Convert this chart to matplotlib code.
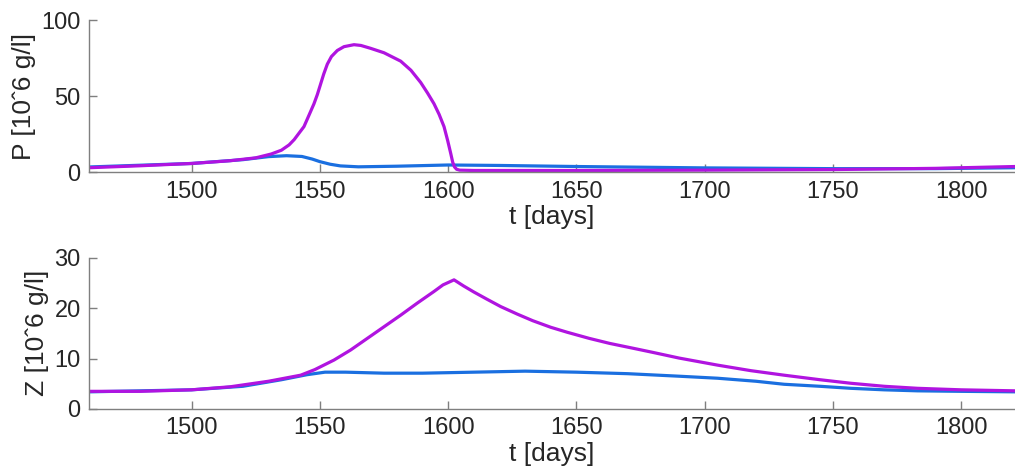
import matplotlib
matplotlib.use("Agg")
import matplotlib.pyplot as plt

plt.rcParams['font.family'] = ['Liberation Sans', 'DejaVu Sans']

# top panel: P
t_p_mag = [1460, 1480, 1500, 1515, 1525, 1531, 1535, 1538, 1540, 1542, 1543.8, 1545.5, 1547.7,
           1549, 1550.3, 1551.5, 1552.9, 1554.5, 1556.8, 1559.4, 1563.3, 1566, 1569.8, 1575,
           1581.5, 1585.5, 1589.3, 1592, 1594.5, 1596.5, 1598.4, 1599.8, 1601, 1601.8, 1602.5,
           1603.3, 1604.5, 1610, 1650, 1700, 1750, 1790, 1821]
p_mag = [3.0, 4.3, 5.8, 7.6, 9.5, 12, 14.5, 18, 21.5, 26, 30, 36.5, 45,
         51, 58, 64.5, 71, 76, 80, 82.5, 83.8, 83.3, 81.4, 78.5,
         73, 67, 59, 52, 45, 38, 30, 21, 12.5, 6.5, 3.5,
         2.0, 1.4, 1.2, 1.2, 1.4, 1.8, 2.6, 3.8]

t_p_blue = [1460, 1500, 1520, 1530, 1537, 1543, 1547, 1550, 1554, 1558, 1565, 1580, 1600,
            1620, 1650, 1700, 1750, 1790, 1821]
p_blue = [3.5, 5.8, 8.3, 10.3, 10.9, 10.4, 8.7, 7.0, 5.3, 4.2, 3.6, 4.0, 4.8,
          4.5, 3.8, 2.9, 2.4, 2.4, 3.0]

# bottom panel: Z
t_z_mag = [1460, 1480, 1500, 1515, 1530, 1542.5, 1548, 1555.5, 1562, 1568.5, 1575, 1581.5,
           1588, 1594.5, 1598, 1602.3, 1606, 1610, 1615, 1620.5, 1627, 1633, 1640, 1646.5,
           1655, 1663, 1672.5, 1680, 1690, 1705, 1718, 1731, 1745, 1757, 1770, 1783, 1800, 1821]
z_mag = [3.5, 3.5, 3.8, 4.4, 5.5, 6.7, 7.8, 9.7, 11.7, 14, 16.3, 18.6,
         21, 23.3, 24.6, 25.6, 24.4, 23.2, 21.8, 20.3, 18.8, 17.5, 16.2, 15.2,
         14.0, 13.0, 12.0, 11.2, 10.1, 8.7, 7.6, 6.7, 5.8, 5.1, 4.5, 4.1, 3.8, 3.6]

t_z_blue = [1460, 1500, 1520, 1535, 1545, 1552, 1560, 1575, 1590, 1610, 1630, 1650, 1670,
            1690, 1705, 1720, 1731, 1745, 1757, 1770, 1783, 1800, 1821]
z_blue = [3.4, 3.8, 4.5, 5.8, 6.8, 7.3, 7.3, 7.1, 7.1, 7.3, 7.5, 7.3, 7.0,
          6.5, 6.1, 5.5, 4.9, 4.5, 4.1, 3.8, 3.6, 3.5, 3.4]

xticks = [1500, 1550, 1600, 1650, 1700, 1750, 1800]

mag = "#b014e0"
blue = "#1a6fe0"
gray = "#7f7f7f"
txt = "#262626"

fig = plt.figure(figsize=(10.15, 4.7), dpi=100)
ax1 = fig.add_axes([0.0877, 0.6334, 0.9123, 0.324])
ax2 = fig.add_axes([0.0877, 0.1298, 0.9123, 0.322])

panels = [
    (ax1, t_p_blue, p_blue, t_p_mag, p_mag, [0, 50, 100], (0, 100), "P [10ˆ6 g/l]"),
    (ax2, t_z_blue, z_blue, t_z_mag, z_mag, [0, 10, 20, 30], (0, 30), "Z [10ˆ6 g/l]"),
]

for ax, tb, yb, tm, ym, yt, ylim, lab in panels:
    ax.plot(tb, yb, color=blue, lw=2.3, solid_capstyle="round", solid_joinstyle="round")
    ax.plot(tm, ym, color=mag, lw=2.3, solid_capstyle="round", solid_joinstyle="round")
    ax.set_xlim(1460, 1821)
    ax.set_ylim(*ylim)
    ax.set_xticks(xticks)
    ax.set_yticks(yt)
    ax.spines["top"].set_visible(False)
    ax.spines["right"].set_visible(False)
    for s in ["left", "bottom"]:
        ax.spines[s].set_color(gray)
        ax.spines[s].set_linewidth(1.0)
    ax.tick_params(direction="in", length=6, width=1.0, color=gray,
                   labelsize=17, labelcolor=txt, pad=6)
    ax.set_xlabel("t [days]", fontsize=19, color=txt, labelpad=2)
    ax.set_ylabel(lab, fontsize=19, color=txt, labelpad=4)

fig.savefig("out.png", dpi=100)
